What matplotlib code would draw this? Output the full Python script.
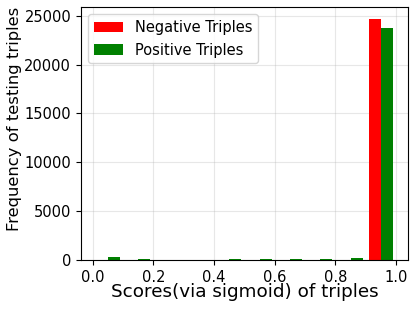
import numpy as np
import matplotlib
matplotlib.use('Agg')
import matplotlib.pyplot as plt

# Histogram counts (10 bins over [0, 1])
bin_edges = [0.0, 0.1, 0.2, 0.3, 0.4, 0.5, 0.6, 0.7, 0.8, 0.9, 1.0]
negative_counts = [0, 0, 0, 0, 0, 0, 0, 0, 0, 24650]
positive_counts = [280, 70, 30, 30, 40, 40, 50, 90, 160, 23700]

bin_centers = [(a + b) / 2 for a, b in zip(bin_edges[:-1], bin_edges[1:])]

fig = plt.figure(figsize=(4.15, 3.09), dpi=100)
ax = fig.add_axes([0.195, 0.159, 0.788, 0.818])

ax.hist([bin_centers, bin_centers], bins=bin_edges,
        weights=[negative_counts, positive_counts],
        color=['red', 'green'],
        label=['Negative Triples', 'Positive Triples'])

ax.grid(True, alpha=0.3)
ax.set_axisbelow(True)
ax.tick_params(labelsize=10.5)
ax.set_xlabel('Scores(via sigmoid) of triples', fontsize=13.2, labelpad=-1)
ax.set_ylabel('Frequency of testing triples', fontsize=11.8)
ax.yaxis.set_label_coords(-0.18, 0.557)
ax.legend(loc='upper left', fontsize=10.5)

plt.savefig('out.png', dpi=100)
